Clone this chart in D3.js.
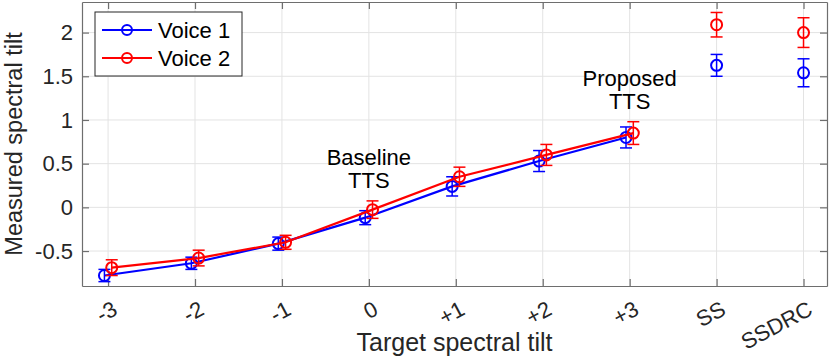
<!DOCTYPE html>
<html>
<head>
<meta charset="utf-8">
<script src="https://cdn.jsdelivr.net/npm/d3@7"></script>
<style>
  body { margin: 0; background: #fff; }
  svg { display: block; font-family: "Liberation Sans", Arial, Helvetica, sans-serif; }
  .grid line { stroke: #e3e3e3; stroke-width: 1; }
</style>
</head>
<body>
<svg id="graphsvg" width="830" height="357"></svg>
<script>
// chart data
var categories = ["-3", "-2", "-1", "0", "+1", "+2", "+3", "SS", "SSDRC"];
var voice1 = [-0.78, -0.64, -0.415, -0.118, 0.24, 0.53, 0.80, 1.625, 1.54];
var voice1Err = [0.07, 0.07, 0.075, 0.08, 0.11, 0.12, 0.12, 0.125, 0.16];
var voice2 = [-0.69, -0.58, -0.40, -0.026, 0.35, 0.60, 0.85, 2.09, 2.0];
var voice2Err = [0.09, 0.09, 0.08, 0.10, 0.11, 0.12, 0.13, 0.14, 0.17];
var yTicks = [-0.5, 0, 0.5, 1, 1.5, 2];
var yTickLabels = ["-0.5", "0", "0.5", "1", "1.5", "2"];
var seriesNames = ["Voice 1", "Voice 2"];
var annotations = [
  {cat: 4, y: 0.485, lines: ["Baseline", "TTS"]},
  {cat: 7, y: 1.39, lines: ["Proposed", "TTS"]}
];

var svg = d3.select("#graphsvg"),
    margin = {top: 2, right: 3, bottom: 71, left: 82},
    width = 830 - margin.left - margin.right,
    height = 357 - margin.top - margin.bottom;

var x = d3.scaleLinear().domain([0.7, 9.27]).range([0, width]);
var y = d3.scaleLinear().domain([-0.9, 2.35]).range([height, 0]);

var g = svg.append("g")
    .attr("transform", "translate(" + margin.left + "," + margin.top + ")");

var xVals = categories.map(function(d, i) { return i + 1; });

// grid
g.append("g").attr("class", "grid")
  .selectAll("line").data(xVals).enter().append("line")
    .attr("x1", function(d) { return x(d); }).attr("x2", function(d) { return x(d); })
    .attr("y1", 0).attr("y2", height);
g.append("g").attr("class", "grid")
  .selectAll("line").data(yTicks).enter().append("line")
    .attr("y1", function(d) { return y(d); }).attr("y2", function(d) { return y(d); })
    .attr("x1", 0).attr("x2", width);

// axes (ticks inward, box on)
var axisColor = "#6e6e6e";
function styleAxis(sel) {
  sel.select(".domain").attr("stroke", axisColor).attr("stroke-width", 1.2);
  sel.selectAll(".tick line").attr("stroke", axisColor).attr("stroke-width", 1.2);
  sel.selectAll("text").remove();
}
g.append("g").attr("transform", "translate(0," + height + ")")
  .call(d3.axisBottom(x).tickValues(xVals).tickSize(-7).tickSizeOuter(0)).call(styleAxis);
g.append("g")
  .call(d3.axisTop(x).tickValues(xVals).tickSize(-7).tickSizeOuter(0)).call(styleAxis);
g.append("g")
  .call(d3.axisLeft(y).tickValues(yTicks).tickSize(-7).tickSizeOuter(0)).call(styleAxis);
g.append("g").attr("transform", "translate(" + width + ",0)")
  .call(d3.axisRight(y).tickValues(yTicks).tickSize(-7).tickSizeOuter(0)).call(styleAxis);

// tick labels
g.selectAll(".ytl").data(yTicks).enter().append("text")
    .attr("class", "ytl")
    .attr("x", -9)
    .attr("y", function(d) { return y(d); })
    .attr("dy", "0.35em")
    .attr("text-anchor", "end")
    .style("font-size", "22px")
    .style("fill", "#262626")
    .text(function(d, i) { return yTickLabels[i]; });

g.selectAll(".xtl").data(categories).enter().append("text")
    .attr("class", "xtl")
    .attr("transform", function(d, i) {
      return "translate(" + (x(i + 1) + 7) + "," + (height + 21) + ") rotate(-28)";
    })
    .attr("dy", "0.35em")
    .attr("text-anchor", "end")
    .style("font-size", "22px")
    .style("fill", "#262626")
    .text(function(d) { return d; });

// axis titles
g.append("text")
    .attr("x", width / 2)
    .attr("y", height + 65)
    .attr("text-anchor", "middle")
    .style("font-size", "25px")
    .style("fill", "#262626")
    .text("Target spectral tilt");
svg.append("text")
    .attr("transform", "translate(22," + (margin.top + height / 2) + ") rotate(-90)")
    .attr("text-anchor", "middle")
    .style("font-size", "23.5px")
    .style("fill", "#262626")
    .text("Measured spectral tilt");

// series
var series = [
  {name: seriesNames[0], vals: voice1, err: voice1Err, color: "#0000ff", off: -0.042},
  {name: seriesNames[1], vals: voice2, err: voice2Err, color: "#ff0000", off: 0.042}
];

series.forEach(function(s) {
  var pts = s.vals.map(function(v, i) {
    var xx = i < 7 ? (i + 1 + s.off) : (i + 1);
    return {x: xx, v: v, e: s.err[i], i: i};
  });
  var line = d3.line().x(function(d) { return x(d.x); }).y(function(d) { return y(d.v); });

  g.append("path")
      .datum(pts.filter(function(d) { return d.i < 7; }))
      .attr("d", line)
      .attr("fill", "none")
      .attr("stroke", s.color)
      .attr("stroke-width", 2.2);

  var eb = g.append("g").selectAll("g").data(pts).enter().append("g")
      .attr("stroke", s.color).attr("stroke-width", 1.5).attr("fill", "none");
  eb.append("line")
      .attr("x1", function(d) { return x(d.x); }).attr("x2", function(d) { return x(d.x); })
      .attr("y1", function(d) { return y(d.v - d.e); }).attr("y2", function(d) { return y(d.v + d.e); });
  eb.append("line")
      .attr("x1", function(d) { return x(d.x) - 6; }).attr("x2", function(d) { return x(d.x) + 6; })
      .attr("y1", function(d) { return y(d.v - d.e); }).attr("y2", function(d) { return y(d.v - d.e); });
  eb.append("line")
      .attr("x1", function(d) { return x(d.x) - 6; }).attr("x2", function(d) { return x(d.x) + 6; })
      .attr("y1", function(d) { return y(d.v + d.e); }).attr("y2", function(d) { return y(d.v + d.e); });
  eb.append("circle")
      .attr("cx", function(d) { return x(d.x); })
      .attr("cy", function(d) { return y(d.v); })
      .attr("r", 5.5)
      .attr("stroke-width", 2);
});

// annotations
annotations.forEach(function(a) {
  var t = g.append("text")
      .attr("text-anchor", "middle")
      .style("font-size", "22px")
      .style("fill", "#000");
  a.lines.forEach(function(l, k) {
    t.append("tspan")
      .attr("x", x(a.cat))
      .attr("y", y(a.y) + k * 23)
      .text(l);
  });
});

// legend
var leg = svg.append("g").attr("transform", "translate(95,12)");
leg.append("rect")
    .attr("width", 147).attr("height", 64)
    .attr("fill", "#fff").attr("stroke", "#262626").attr("stroke-width", 1);
series.forEach(function(s, k) {
  var ly = 18 + k * 28;
  leg.append("line")
      .attr("x1", 7).attr("x2", 57).attr("y1", ly).attr("y2", ly)
      .attr("stroke", s.color).attr("stroke-width", 2.2);
  leg.append("circle")
      .attr("cx", 32).attr("cy", ly).attr("r", 5)
      .attr("fill", "none").attr("stroke", s.color).attr("stroke-width", 2);
  leg.append("text")
      .attr("x", 63).attr("y", ly + 8)
      .style("font-size", "22px")
      .style("fill", "#000")
      .text(s.name);
});
</script>
</body>
</html>
